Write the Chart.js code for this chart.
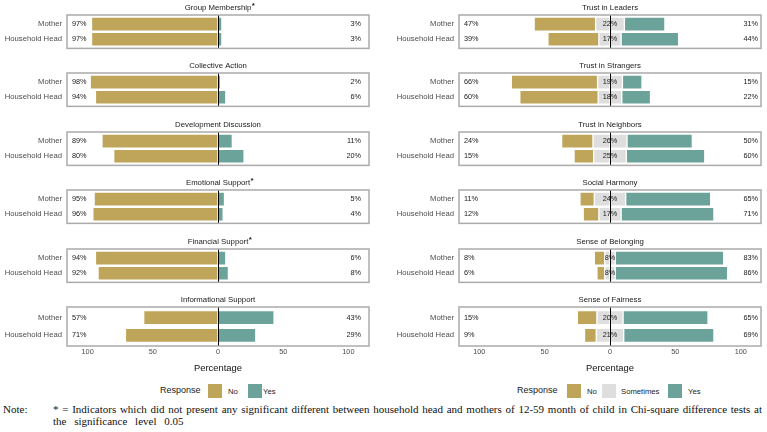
<!DOCTYPE html>
<html>
<head>
<meta charset="utf-8">
<script src="https://cdn.jsdelivr.net/npm/chart.js@4.4.1/dist/chart.umd.min.js"></script>
<style>
  html, body { margin: 0; padding: 0; background: #fff; }
  body { width: 767px; height: 432px; position: relative; overflow: hidden; font-family: "Liberation Sans", Arial, sans-serif; }
  canvas { position: absolute; }
  .leg { position: absolute; color: #1a1a1a; white-space: nowrap; }
  .sw { position: absolute; width: 14px; height: 14px; }
  .note { position: absolute; font-family: "Liberation Serif", "Times New Roman", serif; font-size: 11px; color: #111; white-space: nowrap; }
</style>
</head>
<body>

<!-- legends -->
<div class="leg" style="left:160px; top:385px; font-size:9px;">Response</div>
<div class="sw" style="left:208px; top:384px; background:#BFA55A;"></div>
<div class="leg" style="left:228px; top:387px; font-size:7.7px;">No</div>
<div class="sw" style="left:248px; top:384px; background:#6BA39B;"></div>
<div class="leg" style="left:263px; top:387px; font-size:7.7px;">Yes</div>

<div class="leg" style="left:517px; top:385px; font-size:9px;">Response</div>
<div class="sw" style="left:567px; top:384px; background:#BFA55A;"></div>
<div class="leg" style="left:587px; top:387px; font-size:7.7px;">No</div>
<div class="sw" style="left:602px; top:384px; background:#DEDEDE;"></div>
<div class="leg" style="left:621px; top:387px; font-size:7.7px;">Sometimes</div>
<div class="sw" style="left:668px; top:384px; background:#6BA39B;"></div>
<div class="leg" style="left:688px; top:387px; font-size:7.7px;">Yes</div>

<!-- note -->
<div class="note" style="left:3px; top:403px;">Note:</div>
<div class="note" style="left:53px; top:403px; width:709px; text-align:justify; text-align-last:justify; white-space:normal; height:13px; overflow:hidden;">* = Indicators which did not present any significant different between household head and mothers of 12-59 month of child in Chi-square difference tests at</div>
<div class="note" style="left:53px; top:415px; word-spacing:5px;">the significance level 0.05</div>

<script>
// ============================================
// DATA
// ============================================
const groups = ['Mother', 'Household Head'];
const tickValues = [-100, -50, 0, 50, 100];

// left column: No / Yes
const leftTitles = ['Group Membership', 'Collective Action', 'Development Discussion',
    'Emotional Support', 'Financial Support', 'Informational Support'];
const leftStar = [true, false, false, true, true, false];
const leftNo = [[97, 97], [98, 94], [89, 80], [95, 96], [94, 92], [57, 71]];
const leftYes = [[3, 3], [2, 6], [11, 20], [5, 4], [6, 8], [43, 29]];

// right column: No / Sometimes / Yes
const rightTitles = ['Trust in Leaders', 'Trust in Strangers', 'Trust in Neighbors',
    'Social Harmony', 'Sense of Belonging', 'Sense of Fairness'];
const rightNo = [[47, 39], [66, 60], [24, 15], [11, 12], [8, 6], [15, 9]];
const rightSometimes = [[22, 17], [19, 18], [26, 25], [24, 17], [8, 8], [20, 21]];
const rightYes = [[31, 44], [15, 22], [50, 60], [65, 71], [83, 86], [65, 69]];

const GOLD = '#BFA55A';
const TEAL = '#6BA39B';
const GREY = '#DEDEDE';
const FONT = '"Liberation Sans", Arial, sans-serif';

// Mother sits on top (y = 2), Household Head below (y = 1)
const rowPos = [2, 1];

function rows(values, sign) {
    return values.map((v, k) => ({ x: sign * v, y: rowPos[k] }));
}

// ============================================
// PANEL PLUGIN: box, zero line, labels, title
// ============================================
const panelPlugin = {
    id: 'panel',
    afterDatasetsDraw(chart, args, opts) {
        const { ctx, chartArea: a, scales } = chart;
        const x0 = scales.x.getPixelForValue(0);

        ctx.save();
        // zero line
        ctx.strokeStyle = '#000';
        ctx.lineWidth = 1;
        ctx.beginPath();
        ctx.moveTo(Math.round(x0) + 0.5, a.top);
        ctx.lineTo(Math.round(x0) + 0.5, a.bottom);
        ctx.stroke();

        // box
        ctx.strokeStyle = '#ABABAB';
        ctx.lineWidth = 1.5;
        ctx.strokeRect(a.left, a.top, a.right - a.left, a.bottom - a.top);

        // percentage labels
        ctx.fillStyle = '#1a1a1a';
        ctx.font = '7.3px ' + FONT;
        ctx.textBaseline = 'middle';
        rowPos.forEach((p, k) => {
            const y = scales.y.getPixelForValue(p);
            ctx.textAlign = 'left';
            ctx.fillText(opts.no[k] + '%', a.left + 5, y);
            ctx.textAlign = 'right';
            ctx.fillText(opts.yes[k] + '%', a.right - opts.rightPad, y);
            if (opts.some) {
                ctx.textAlign = 'center';
                ctx.fillText(opts.some[k] + '%', x0, y);
            }
        });

        // title
        ctx.font = '7.8px ' + FONT;
        ctx.textAlign = 'center';
        const cx = (a.left + a.right) / 2;
        const ty = a.top - 7;
        ctx.fillText(opts.title, cx, ty);
        if (opts.star) {
            const w = ctx.measureText(opts.title).width;
            ctx.textAlign = 'left';
            ctx.font = 'bold 8px ' + FONT;
            ctx.fillText('*', cx + w / 2 + 0.5, ty - 2.5);
        }
        ctx.restore();
    }
};

// ============================================
// BUILD ONE PANEL
// ============================================
function makePanel(col, i) {
    const isLast = i === 5;
    const left = col === 0 ? 0 : 384;
    const width = col === 0 ? 384 : 383;
    const top = Math.round(i * 58.4);
    const axisH = 30;
    const height = isLast ? 15 + 39 + axisH : 58;

    const canvas = document.createElement('canvas');
    canvas.width = width;
    canvas.height = height;
    canvas.style.left = left + 'px';
    canvas.style.top = top + 'px';
    document.body.appendChild(canvas);

    const bar = { barThickness: 14, borderWidth: 1, borderColor: 'rgba(255,255,255,0.65)', borderSkipped: false };
    let datasets, pluginOpts;

    if (col === 0) {
        datasets = [
            Object.assign({ label: 'No', data: rows(leftNo[i], -1), backgroundColor: GOLD }, bar),
            Object.assign({ label: 'Yes', data: rows(leftYes[i], 1), backgroundColor: TEAL }, bar)
        ];
        pluginOpts = { title: leftTitles[i], star: leftStar[i], no: leftNo[i], yes: leftYes[i], rightPad: 8 };
    } else {
        const half = rightSometimes[i].map(v => v / 2);
        datasets = [
            Object.assign({ label: 'Sometimes', data: rows(half, -1), backgroundColor: GREY }, bar),
            Object.assign({ label: 'Sometimes', data: rows(half, 1), backgroundColor: GREY }, bar),
            Object.assign({ label: 'No', data: rows(rightNo[i], -1), backgroundColor: GOLD }, bar),
            Object.assign({ label: 'Yes', data: rows(rightYes[i], 1), backgroundColor: TEAL }, bar)
        ];
        pluginOpts = { title: rightTitles[i], star: false, no: rightNo[i], yes: rightYes[i],
            some: rightSometimes[i], rightPad: 3 };
    }

    const lim = col === 0 ? 115.8 : 115.5;

    new Chart(canvas.getContext('2d'), {
        type: 'bar',
        data: { datasets },
        plugins: [panelPlugin],
        options: {
            indexAxis: 'y',
            responsive: false,
            animation: false,
            devicePixelRatio: 1,
            layout: { padding: { top: 15, right: col === 0 ? 15 : 6, left: 0, bottom: isLast ? 0 : 4 } },
            plugins: {
                legend: { display: false },
                tooltip: { enabled: false },
                panel: pluginOpts
            },
            scales: {
                x: {
                    type: 'linear',
                    min: -lim,
                    max: lim,
                    stacked: true,
                    display: isLast,
                    grid: { display: false, drawTicks: false },
                    border: { display: false },
                    afterBuildTicks: s => { s.ticks = tickValues.map(v => ({ value: v })); },
                    afterFit: s => { s.height = isLast ? axisH : 0; },
                    ticks: {
                        color: '#4d4d4d',
                        font: { size: 7.3, family: FONT },
                        padding: 2,
                        maxRotation: 0,
                        callback: v => Math.abs(v)
                    },
                    title: {
                        display: true,
                        text: 'Percentage',
                        color: '#111',
                        font: { size: 9.4, family: FONT },
                        padding: { top: 2, bottom: 2 }
                    }
                },
                y: {
                    type: 'linear',
                    min: 0.4,
                    max: 2.6,
                    offset: false,
                    stacked: true,
                    grid: { display: false, drawTicks: false },
                    border: { display: false },
                    afterBuildTicks: s => { s.ticks = rowPos.map(v => ({ value: v })); },
                    afterFit: s => { s.width = col === 0 ? 67 : 75; },
                    ticks: {
                        color: '#4d4d4d',
                        font: { size: 7.7, family: FONT },
                        padding: 5,
                        callback: v => groups[rowPos.indexOf(v)]
                    }
                }
            }
        }
    });
}

for (let i = 0; i < 6; i++) {
    makePanel(0, i);
    makePanel(1, i);
}
</script>
</body>
</html>
